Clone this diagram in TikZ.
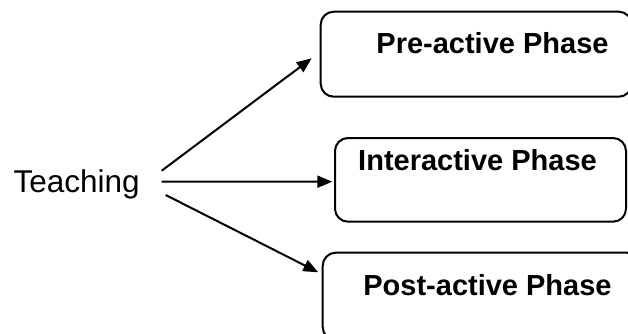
\documentclass[tikz,border=0pt]{standalone}
\usepackage{fontspec}
\setmainfont{Liberation Sans}
\usetikzlibrary{arrows.meta}
\tikzset{
  phasebox/.style={draw, line width=2pt, rounded corners=13pt, inner sep=0pt},
  phasetext/.style={font=\fontsize{29}{34}\selectfont\bfseries, inner sep=0pt, anchor=base},
  arr/.style={line width=2pt, -{Triangle[length=15pt,width=12pt]}}
}
\begin{document}
\begin{tikzpicture}[x=1pt,y=-1pt]
\useasboundingbox (0,0) rectangle (628,334);
\clip (0,0) rectangle (628,334);
\fill[white] (0,0) rectangle (628,334);
\node[phasebox, minimum width=311pt, minimum height=85pt] (b1) at (476.2,54.2) {};
\node[phasebox, minimum width=291pt, minimum height=83.7pt] (b2) at (480.5,179.85) {};
\node[phasebox, minimum width=317.3pt, minimum height=87.3pt] (b3) at (481.35,296.35) {};
\node[phasetext] (t1) at (492.5,53.3) {Pre-active Phase};
\node[phasetext] (t2) at (477.5,170) {Interactive Phase};
\node[phasetext] (t3) at (487.5,295) {Post-active Phase};
\node[font=\fontsize{31.5}{38}\selectfont, inner sep=0pt, anchor=base] (teach) at (76.7,192.3) {Teaching};
\draw[arr] ([shift={(85,-21.6)}]teach.base) -- ([shift={(-8,4.1)}]b1.west);
\draw[arr] ([shift={(85,-10.6)}]teach.base) -- ([shift={(-1.7,1.85)}]b2.west);
\draw[arr] ([shift={(89,2.7)}]teach.base) -- ([shift={(-3.4,20.6)}]b3.north west);
\end{tikzpicture}
\end{document}
